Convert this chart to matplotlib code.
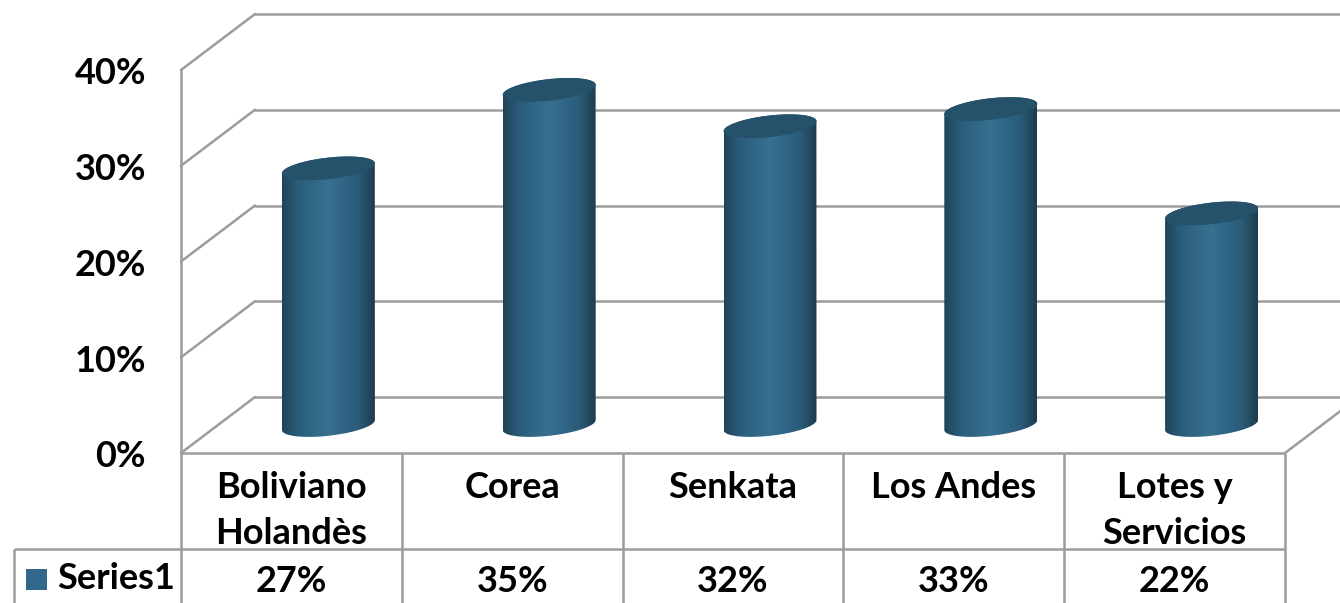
import numpy as np
import matplotlib
matplotlib.use("Agg")
import matplotlib.pyplot as plt
from matplotlib.colors import LinearSegmentedColormap
from matplotlib.patches import PathPatch, Polygon, Rectangle
from matplotlib.path import Path

categories = ["Boliviano\nHolandès", "Corea", "Senkata", "Los Andes", "Lotes y\nServicios"]
values = [26.8, 35.0, 31.2, 33.0, 22.1]
value_labels = ["27%", "35%", "32%", "33%", "22%"]
y_ticks = [0, 10, 20, 30, 40]
y_tick_labels = ["0%", "10%", "20%", "30%", "40%"]
series_name = "Series1"

GRID = "#9c9c9c"
BAR_STOPS = ["#1f4459", "#2a5c7a", "#306787", "#38708f", "#2f6587", "#2a5a76", "#1d3c4e"]
TOP = "#25516b"
SWATCH = "#31678a"
FONT = "Lato"
FS = 26

# scala: 1 categoria = 220.8 px, 1 punto % = 9.575 px, origine nell'angolo del pavimento
XU, YU = 220.8, 9.575
X0, Y0 = 181, 453
W, H = 1340, 603

DX, DY = 74 / XU, 56 / YU  # profondità del riquadro 3D
ROW1, ROW2 = -96 / YU, -150 / YU
A, B, SHEAR = 46.5 / XU, 10.8 / YU, 5 / YU


def ellipse(cx, cy, t):
    return np.column_stack([cx + A * np.cos(t), cy + B * np.sin(t) + SHEAR * np.cos(t)])


def draw_walls(ax):
    kw = dict(color=GRID, lw=1.8, zorder=1, solid_capstyle="round")
    top = y_ticks[-1]
    ax.plot([0, 0], [0, top], **kw)
    for t in y_ticks:
        ax.plot([0, DX], [t, t + DY], **kw)
        ax.plot([DX, 6], [t + DY, t + DY], **kw)
    ax.plot([len(categories), len(categories) + DX], [0, DY], **kw)


def draw_cylinder(ax, xc, yb, val, cmap):
    yt = yb + val
    t = np.linspace(0, 2 * np.pi, 200)
    low = ellipse(xc, yb, np.linspace(np.pi, 2 * np.pi, 100))
    up = ellipse(xc, yt, np.linspace(0, np.pi, 100))
    body = PathPatch(Path(np.vstack([low, up, low[:1]])), fc="none", ec="none", zorder=2)
    ax.add_patch(body)
    grad = np.linspace(0, 1, 256).reshape(1, -1)
    im = ax.imshow(grad, cmap=cmap, aspect="auto", zorder=3, interpolation="bilinear",
                   extent=(xc - A, xc + A, yb - 3, yt + 3))
    im.set_clip_path(body)
    ax.add_patch(Polygon(ellipse(xc, yt, t), fc=TOP, ec="none", zorder=4))


def draw_table(ax):
    n = len(categories)
    kw = dict(color=GRID, lw=1.8, zorder=1, solid_capstyle="butt")
    left = (14 - X0) / XU
    ax.plot([0, n], [0, 0], **kw)
    ax.plot([left, n], [ROW1, ROW1], **kw)
    ax.plot([left, left], [ROW1, ROW2], **kw)
    for i in range(n + 1):
        ax.plot([i, i], [0, ROW2], **kw)
    for i, name in enumerate(categories):
        ax.text(i + 0.5, -1.9, name, ha="center", va="top", fontsize=FS, fontweight="bold",
                family=FONT, color="black", linespacing=1.46)
        ax.text(i + 0.5, ROW1 - 3.4, value_labels[i], ha="center", va="center", fontsize=FS,
                fontweight="bold", family=FONT, color="black")
    ax.add_patch(Rectangle(((26 - X0) / XU, -137 / YU), 21 / XU, 21 / YU, fc=SWATCH, ec="none"))
    ax.text((57 - X0) / XU, ROW1 - 3.1, series_name, ha="left", va="center", fontsize=FS,
            fontweight="bold", family=FONT, color="black")


fig = plt.figure(figsize=(W / 100, H / 100), dpi=100)
ax = fig.add_axes([0, 0, 1, 1])

cmap = LinearSegmentedColormap.from_list("cyl", BAR_STOPS)
draw_walls(ax)
for i, v in enumerate(values):
    draw_cylinder(ax, i + 0.5 + DX / 2, DY / 2, v, cmap)
draw_table(ax)

for t, lab in zip(y_ticks, y_tick_labels):
    ax.text((146 - X0) / XU, t - 0.4, lab, ha="right", va="center", fontsize=FS,
            fontweight="bold", family=FONT, color="black")

ax.set_xlim((0 - X0) / XU, (W - X0) / XU)
ax.set_ylim((Y0 - H) / YU, Y0 / YU)
ax.axis("off")

fig.savefig("out.png", dpi=100)
